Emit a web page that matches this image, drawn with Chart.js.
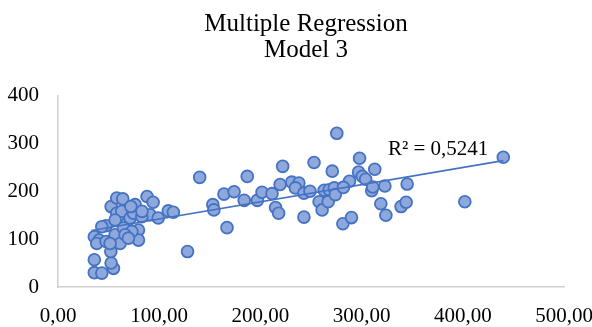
<!DOCTYPE html>
<html>
<head>
<meta charset="utf-8">
<script src="https://cdn.jsdelivr.net/npm/chart.js@4/dist/chart.umd.min.js"></script>
<style>
  html, body { margin: 0; padding: 0; background: #fff; }
  #wrap { width: 592px; height: 327px; position: relative; }
</style>
</head>
<body>
<div id="wrap"><canvas id="regChart"></canvas></div>
<script>
const xValues = [
  35.9, 43.3, 54.8, 52.5, 35.9, 52.2, 35.9, 40.6, 38.3, 47.5,
  47.5, 43.3, 56.4, 61.4, 52.5, 58.0, 64.0, 58.0, 63.0, 68.0,
  64.7, 71.3, 74.6, 76.2, 72.0, 79.5, 79.5, 73.0, 66.3, 88.0,
  94.0, 91.0, 99.0, 109.0, 114.0, 128.0, 69.6, 51.5, 56.4, 82.8,
  83.0, 140.0, 153.0, 154.0, 167.0, 164.0, 174.0, 184.0, 187.0, 197.0,
  201.6, 211.5, 215.0, 218.0, 219.5, 222.0, 231.0, 238.0, 234.6, 243.0,
  243.0, 249.0, 253.0, 258.0, 261.0, 263.0, 267.0, 268.0, 271.0, 273.0,
  274.0, 275.5, 281.5, 290.0, 288.0, 282.0, 298.0, 297.0, 300.7, 304.0,
  310.0, 311.0, 313.0, 319.0, 324.0, 323.0, 339.0, 344.0, 345.0, 402.0,
  440.0
];
const yValues = [
  30, 29, 39, 50, 57, 74, 105, 98, 91, 95,
  128, 126, 109, 91, 168, 186, 184, 154, 158, 133,
  123, 144, 154, 172, 168, 119, 98, 116, 109, 189,
  177, 151, 144, 159, 156, 74, 102, 91, 140, 147,
  158, 229, 172, 161, 124, 194, 199, 181, 231, 181,
  198, 195, 166, 154, 214, 252, 219, 217, 207, 196,
  146, 200, 260, 178, 161, 202, 178, 203, 242, 207,
  193, 321, 132, 145, 221, 208, 269, 240, 231, 225,
  201, 209, 246, 174, 150, 211, 168, 177, 215, 178,
  271
];

// Linear trendline ends, as drawn in the picture
const trendX = [33, 440];
const trendY = [118, 264];
const rSquaredText = 'R² = 0,5241';

const xTicks = [0, 100, 200, 300, 400, 500];
const yTicks = [0, 100, 200, 300, 400];

const serif = '"Liberation Serif", "Times New Roman", serif';

const points = xValues.map((x, i) => ({ x: x, y: yValues[i] }));
const trendPoints = trendX.map((x, i) => ({ x: x, y: trendY[i] }));

// R² label next to the end of the trendline
const rLabelPlugin = {
    id: 'rLabel',
    afterLayout(chart) {
        // title sits a little right of the canvas centre
        if (chart.titleBlock) {
            chart.titleBlock.left = 20;
            chart.titleBlock.right = chart.width;
        }
    },
    afterDatasetsDraw(chart) {
        const ctx = chart.ctx;
        const xs = chart.scales.x, ys = chart.scales.y;
        ctx.save();
        ctx.font = '21px ' + serif;
        ctx.fillStyle = '#000';
        ctx.textAlign = 'left';
        ctx.textBaseline = 'middle';
        ctx.fillText(rSquaredText, xs.getPixelForValue(326), ys.getPixelForValue(287));
        ctx.restore();
    }
};

const ctx = document.getElementById('regChart').getContext('2d');
new Chart(ctx, {
    type: 'scatter',
    data: {
        datasets: [{
            type: 'line',
            label: 'Trend',
            data: trendPoints,
            borderColor: '#4472c4',
            borderWidth: 1.6,
            pointRadius: 0,
            fill: false,
            order: 0
        }, {
            label: 'Model 3',
            data: points,
            backgroundColor: '#8ea8db',
            borderColor: '#4472c4',
            borderWidth: 1.8,
            pointRadius: 5.9,
            order: 1
        }]
    },
    options: {
        responsive: true,
        maintainAspectRatio: false,
        animation: false,
        layout: { padding: { left: 0, right: 0, top: 0, bottom: 0 } },
        plugins: {
            legend: { display: false },
            tooltip: { enabled: false },
            title: {
                display: true,
                text: ['Multiple Regression', 'Model 3'],
                color: '#000',
                font: { family: serif, size: 25, weight: 'normal', lineHeight: 1.05 },
                padding: { top: 11, bottom: 32 }
            }
        },
        scales: {
            x: {
                type: 'linear',
                min: 0,
                max: 500,
                afterFit: s => {
                    s.height = 40;
                    s.paddingLeft = 0;
                    s.paddingRight = 28;
                },
                afterBuildTicks: s => { s.ticks = xTicks.map(v => ({ value: v })); },
                grid: { drawOnChartArea: false, drawTicks: false },
                border: { display: true, color: '#d0d0d0', width: 1.5 },
                ticks: {
                    color: '#000',
                    padding: 17,
                    maxRotation: 0,
                    font: { family: serif, size: 21 },
                    callback: v => v.toFixed(2).replace('.', ',')
                }
            },
            y: {
                type: 'linear',
                min: 0,
                max: 400,
                afterFit: s => { s.width = 58; },
                afterBuildTicks: s => { s.ticks = yTicks.map(v => ({ value: v })); },
                grid: { drawOnChartArea: false, drawTicks: false },
                border: { display: true, color: '#d0d0d0', width: 1.5 },
                ticks: {
                    color: '#000',
                    padding: 19,
                    font: { family: serif, size: 21 }
                }
            }
        }
    },
    plugins: [rLabelPlugin]
});
</script>
</body>
</html>
